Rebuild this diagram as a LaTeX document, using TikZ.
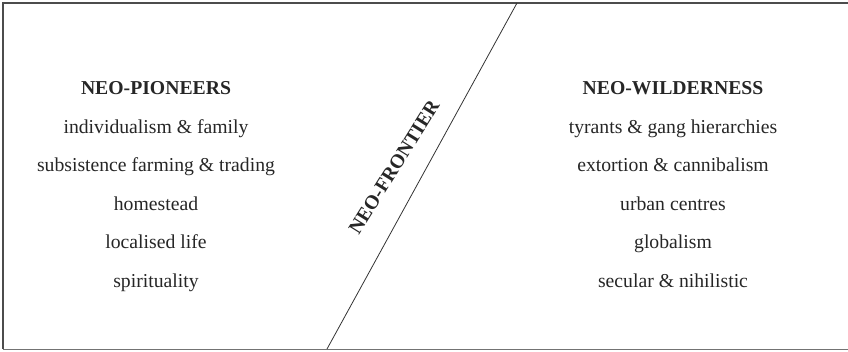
\documentclass[tikz,border=0pt]{standalone}
\usepackage{fontspec}
\setmainfont{Liberation Serif}
\begin{document}
\begin{tikzpicture}[x=1pt,y=-1pt,
  item/.style={font=\fontsize{19.7}{23}\selectfont, text=black!85, inner sep=0pt, anchor=base},
  head/.style={item, font=\fontsize{19.7}{23}\selectfont\bfseries},
  frame/.style={draw=black!70, line width=1.2pt}]
\useasboundingbox (0,0) rectangle (848,351);
\draw[frame] (3,349) -- (3,3) -- (848,3);
\draw[draw=black!55, line width=1pt] (3,349) -- (848,349);
\coordinate (top) at (517,3);
\coordinate (bot) at (327,349);
\draw[black!80, line width=0.8pt] (top) -- (bot);
\node[head, rotate=58, anchor=center] (nf) at (394,167) {NEO-FRONTIER};
\node[head] (lh) at (156,94) {NEO-PIONEERS};
\node[item] (l1) at (156,133.3) {individualism \& family};
\node[item] (l2) at (156,171.7) {subsistence farming \& trading};
\node[item] (l3) at (156,210) {homestead};
\node[item] (l4) at (156,248.3) {localised life};
\node[item] (l5) at (156,287) {spirituality};
\node[head] (rh) at (673,94) {NEO-WILDERNESS};
\node[item] (r1) at (673,133.3) {tyrants \& gang hierarchies};
\node[item] (r2) at (673,171.7) {extortion \& cannibalism};
\node[item] (r3) at (673,210) {urban centres};
\node[item] (r4) at (673,248.3) {globalism};
\node[item] (r5) at (673,287) {secular \& nihilistic};
\end{tikzpicture}
\end{document}
